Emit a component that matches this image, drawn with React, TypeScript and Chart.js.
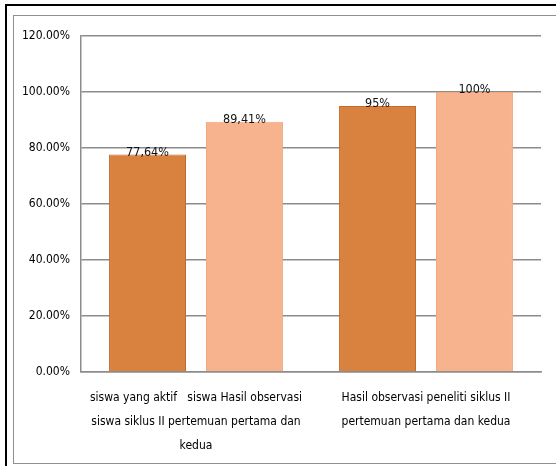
import React, { useEffect, useRef } from "react";
import { Chart, registerables } from "chart.js";

Chart.register(...registerables);

const categories: string[][] = [
  ["siswa yang aktif   siswa Hasil observasi", "siswa siklus II pertemuan pertama dan", "kedua"],
  ["Hasil observasi peneliti siklus II", "pertemuan pertama dan kedua"],
];
const seriesA: number[] = [77.64, 95];
const seriesB: number[] = [89.41, 100];
const labelsA: string[] = ["77,64%", "95%"];
const labelsB: string[] = ["89,41%", "100%"];

const FONT = '"DejaVu Sans Condensed", "Liberation Sans Narrow", "Noto Sans", sans-serif';

const valueLabels = {
  id: "valueLabels",
  afterDatasetsDraw(chart: any) {
    const ctx = chart.ctx;
    ctx.save();
    ctx.font = `12.5px ${FONT}`;
    ctx.fillStyle = "#111";
    ctx.textAlign = "center";
    ctx.textBaseline = "alphabetic";
    chart.data.datasets.forEach((ds: any, di: number) => {
      const meta = chart.getDatasetMeta(di);
      meta.data.forEach((bar: any, i: number) => {
        const txt = ds.valueLabels[i];
        ctx.fillText(txt, bar.x, bar.y + 1);
      });
    });
    ctx.restore();
  },
};

export default function App() {
  const ref = useRef<HTMLCanvasElement | null>(null);
  useEffect(() => {
    if (!ref.current) return;
    const chart = new Chart(ref.current, {
      type: "bar",
      data: {
        labels: categories as any,
        datasets: [
          {
            data: seriesA,
            backgroundColor: "#D9823F",
            borderColor: "#C46A2A",
            borderWidth: 1,
            categoryPercentage: 0.843,
            barPercentage: 0.794,
            valueLabels: labelsA,
          } as any,
          {
            data: seriesB,
            backgroundColor: "#F7B38E",
            borderColor: "#F2A77D",
            borderWidth: 1,
            categoryPercentage: 0.843,
            barPercentage: 0.794,
            valueLabels: labelsB,
          } as any,
        ],
      },
      options: {
        responsive: false,
        animation: false,
        layout: { padding: { left: 0, right: 15, top: 36, bottom: 0 } },
        plugins: { legend: { display: false }, tooltip: { enabled: false } },
        scales: {
          y: {
            min: 0,
            max: 120,
            ticks: {
              stepSize: 20,
              padding: 11,
              color: "#000",
              font: { family: FONT, size: 12 },
              callback: (v: any) => Number(v).toFixed(2) + "%",
            },
            grid: { color: "#8c8c8c", lineWidth: 1.5, drawTicks: false },
            border: { display: true, color: "#8c8c8c", width: 1.5 },
            afterFit: (s: any) => {
              s.width = 81;
            },
          },
          x: {
            ticks: {
              padding: 14,
              color: "#000",
              maxRotation: 0,
              autoSkip: false,
              font: { family: FONT, size: 12, lineHeight: 24 / 12 },
            },
            grid: { display: false, drawTicks: false },
            border: { display: true, color: "#8c8c8c", width: 1.5 },
            afterFit: (s: any) => {
              s.height = 94;
            },
          },
        },
      },
      plugins: [valueLabels],
    });
    return () => chart.destroy();
  }, []);

  return (
    <div style={{ position: "fixed", left: 0, top: 0, width: 556, height: 466, background: "#fff", overflow: "hidden" }}>
      <canvas ref={ref} width={556} height={466} style={{ position: "absolute", left: 0, top: 0 }} />
      <div
        style={{
          position: "absolute",
          left: 5,
          top: 4,
          width: 700,
          height: 700,
          borderTop: "2px solid #000",
          borderLeft: "2px solid #000",
          pointerEvents: "none",
        }}
      />
      <div
        style={{
          position: "absolute",
          left: 13,
          top: 15,
          width: 700,
          height: 447,
          borderTop: "1.5px solid #909090",
          borderLeft: "1.5px solid #909090",
          borderBottom: "1.5px solid #909090",
          pointerEvents: "none",
        }}
      />
    </div>
  );
}
